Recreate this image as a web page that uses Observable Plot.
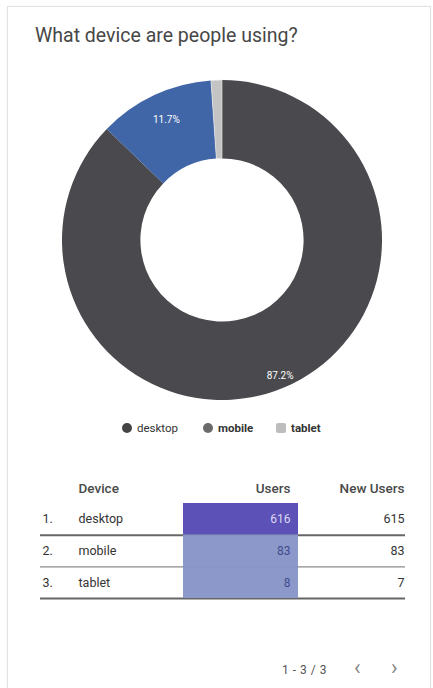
<!DOCTYPE html>
<html>
<head>
<meta charset="utf-8">
<script src="https://cdn.jsdelivr.net/npm/d3@7"></script>
<script src="https://cdn.jsdelivr.net/npm/@observablehq/plot@0.6"></script>
<style>
  html, body { margin: 0; padding: 0; background: #fff; }
  body { width: 433px; height: 688px; position: relative; overflow: hidden; font-family: Roboto, "Noto Sans", sans-serif; }
  .card { position: absolute; left: 7px; top: 6px; width: 422px; height: 700px; border: 1px solid #e2e2e2; box-shadow: 0 0 1px #eee; }
  .abs { position: absolute; white-space: nowrap; }
  #title { left: 35px; top: 27px; font-size: 19.5px; line-height: 18px; color: #474747; }
  .leg { font-size: 11.5px; line-height: 12px; color: #333; top: 422px; }
  .sw { position: absolute; width: 10px; height: 10px; top: 423px; }
  #pager { left: 282px; top: 663px; font-size: 12px; line-height: 14px; color: #555; letter-spacing: 0.5px; }
  .chev { top: 658px; font-size: 22px; line-height: 20px; color: #888; }
  svg { font-family: Roboto, "Noto Sans", sans-serif; }
</style>
</head>
<body>
<div class="card"></div>
<div id="title" class="abs">What device are people using?</div>
<div id="donut" class="abs" style="left:0;top:60px;"></div>
<div id="legend"></div>
<div id="table" class="abs" style="left:0;top:470px;"></div>
<div id="pager" class="abs">1 - 3 / 3</div>
<div class="abs chev" style="left:354px;">&lsaquo;</div>
<div class="abs chev" style="left:391px;">&rsaquo;</div>
<script>
// ---- data ----
const devices = ["desktop", "mobile", "tablet"];
const users = [616, 83, 8];
const newUsers = [615, 83, 7];
const sharePct = [87.2, 11.7, 1.1];
const shareLabels = ["87.2%", "11.7%", ""];
const headers = ["Device", "Users", "New Users"];

// ---- styles ----
const sliceColors = {desktop: "#4a4a4e", mobile: "#4066a8", tablet: "#c4c4c4"};
const legendColors = {desktop: "#454545", mobile: "#6a6a6a", tablet: "#bdbdbd"};
const labelRadius = {desktop: 0.92, mobile: 0.83, tablet: 0.8};
const innerRatio = 0.51;

const rows = devices.map((d, i) => ({
  i, rank: (i + 1) + ".", device: d, users: users[i], newUsers: newUsers[i],
  share: sharePct[i], label: shareLabels[i]
}));

// ---- donut ----
const pieArcs = d3.pie().sort(null).value(d => d.share)(rows);
const labelData = pieArcs.map(a => {
  const mid = (a.startAngle + a.endAngle) / 2;
  const r = labelRadius[a.data.device];
  return {label: a.data.label, x: r * Math.sin(mid), y: r * Math.cos(mid)};
});

const donutMark = (index, scales, values, dimensions, context) => {
  const cx = scales.x(0), cy = scales.y(0);
  const outer = scales.x(1) - scales.x(0);
  const arc = d3.arc().outerRadius(outer).innerRadius(outer * innerRatio);
  const g = d3.create("svg:g").attr("transform", `translate(${cx},${cy})`);
  g.selectAll("path").data(pieArcs).join("path")
    .attr("d", arc)
    .attr("fill", d => sliceColors[d.data.device])
    .attr("stroke", d => d.data.device === "tablet" ? "#eeeeee" : "none")
    .attr("stroke-width", 0.6);
  return g.node();
};

const donut = Plot.plot({
  width: 433, height: 360,
  margin: 0,
  x: {domain: [-1, 1], range: [62, 382], axis: null},
  y: {domain: [-1, 1], range: [340, 20], axis: null},
  marks: [
    donutMark,
    Plot.text(labelData, {x: "x", y: "y", text: "label", fill: "#fff", fontSize: 10})
  ]
});
document.getElementById("donut").appendChild(donut);

// ---- legend ----
const legendPos = {
  desktop: {sw: 122, tx: 137, shape: "50%", bold: false},
  mobile: {sw: 203, tx: 218, shape: "50%", bold: true},
  tablet: {sw: 276, tx: 291, shape: "2px", bold: true}
};
const leg = document.getElementById("legend");
devices.forEach(d => {
  const p = legendPos[d];
  const s = document.createElement("div");
  s.className = "sw";
  s.style.left = p.sw + "px";
  s.style.background = legendColors[d];
  s.style.borderRadius = p.shape;
  leg.appendChild(s);
  const t = document.createElement("div");
  t.className = "abs leg";
  t.style.left = p.tx + "px";
  t.style.fontWeight = p.bold ? "700" : "400";
  t.textContent = d;
  leg.appendChild(t);
});

// ---- table ----
const col = {rank: 42, device: 78, usersRight: 290, newRight: 404, cellX1: 183, cellX2: 298, ruleX1: 40, ruleX2: 405};
const ruleStyle = [{c: "#666", w: 2}, {c: "#8a8a8a", w: 1.2}, {c: "#666", w: 2}];
const cellFill = d => d.users > 100 ? "#5c51b7" : "#8c98c9";
const usersText = d => d.users > 100 ? "#dcd8f4" : "#3f4d8e";

const table = Plot.plot({
  width: 433, height: 140,
  margin: 0,
  x: {domain: [0, 433], range: [0, 433], axis: null},
  y: {domain: [0, 3], range: [33, 128], axis: null},
  marks: [
    Plot.ruleY(rows, {y: d => d.i + 1, x1: col.ruleX1, x2: col.ruleX2,
      stroke: d => ruleStyle[d.i].c, strokeWidth: d => ruleStyle[d.i].w}),
    Plot.rect(rows, {x1: col.cellX1, x2: col.cellX2, y1: d => d.i, y2: d => d.i + 1, fill: cellFill}),
    Plot.ruleY(rows.slice(0, 2), {y: d => d.i + 1, x1: col.cellX1, x2: col.cellX2, stroke: "#7a86bd", strokeWidth: 0.8, strokeOpacity: 0.6}),
    // header
    Plot.text([headers[0]], {x: col.device, y: -0.46, text: d => d, textAnchor: "start", fontSize: 13.5, fill: "#4a4a4a", fontWeight: 500}),
    Plot.text([headers[1]], {x: col.usersRight, y: -0.46, text: d => d, textAnchor: "end", fontSize: 13.5, fill: "#4a4a4a", fontWeight: 500}),
    Plot.text([headers[2]], {x: col.newRight, y: -0.46, text: d => d, textAnchor: "end", fontSize: 13.5, fill: "#4a4a4a", fontWeight: 500}),
    // rows
    Plot.text(rows, {x: col.rank, y: d => d.i + 0.5, text: "rank", textAnchor: "start", fontSize: 12.5, fill: "#333"}),
    Plot.text(rows, {x: col.device, y: d => d.i + 0.5, text: "device", textAnchor: "start", fontSize: 12.5, fill: "#333"}),
    Plot.text(rows, {x: col.usersRight, y: d => d.i + 0.5, text: d => String(d.users), textAnchor: "end", fontSize: 12, fill: usersText}),
    Plot.text(rows, {x: col.newRight, y: d => d.i + 0.5, text: d => String(d.newUsers), textAnchor: "end", fontSize: 12.5, fill: "#333"})
  ]
});
document.getElementById("table").appendChild(table);
</script>
</body>
</html>
